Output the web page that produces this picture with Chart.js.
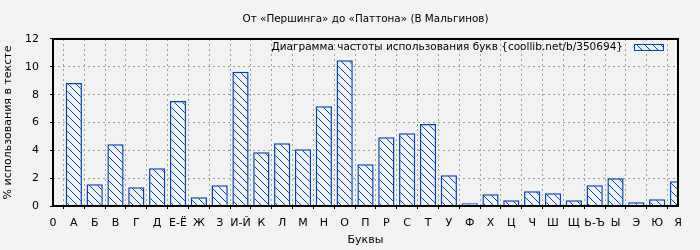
<!DOCTYPE html>
<html lang="ru">
<head>
<meta charset="utf-8">
<title>Частота букв</title>
<script src="https://cdn.jsdelivr.net/npm/chart.js@4"></script>
<style>
    html, body { margin: 0; padding: 0; background: #f2f2f2; }
    #wrap { width: 700px; height: 250px; }
</style>
</head>
<body>
<div id="wrap"><canvas id="chart" width="700" height="250"></canvas></div>
<script>
/*** ======== Data ======== ***/
const chartTitle = 'От «Першинга» до «Паттона» (В Мальгинов)';
const seriesName = 'Диаграмма частоты использования букв {coollib.net/b/350694}';
const letters = ['0', 'А', 'Б', 'В', 'Г', 'Д', 'Е-Ё', 'Ж', 'З', 'И-Й', 'К', 'Л', 'М', 'Н', 'О',
    'П', 'Р', 'С', 'Т', 'У', 'Ф', 'Х', 'Ц', 'Ч', 'Ш', 'Щ', 'Ь-Ъ', 'Ы', 'Э', 'Ю', 'Я'];
const percents = [null, 8.83, 1.56, 4.44, 1.34, 2.71, 7.55, 0.62, 1.49, 9.64, 3.86, 4.51, 4.08, 7.17, 10.48,
    3.0, 4.94, 5.23, 5.9, 2.21, 0.19, 0.84, 0.41, 1.06, 0.91, 0.41, 1.49, 1.99, 0.27, 0.48, 1.78];
const yTicks = [0, 2, 4, 6, 8, 10, 12];

const bg = '#f2f2f2';
const blue = '#0044bb';
const font = { family: 'DejaVu Sans', size: 11 };

document.addEventListener('DOMContentLoaded', function () {
    const canvas = document.getElementById('chart');
    const ctx = canvas.getContext('2d');

    // diagonal hatch "\" used for bars and legend box
    function makeHatch() {
        const c = document.createElement('canvas');
        c.width = 8; c.height = 8;
        const g = c.getContext('2d');
        g.fillStyle = bg;
        g.fillRect(0, 0, 8, 8);
        g.fillStyle = blue;
        for (let i = 0; i < 8; i++) g.fillRect(i, i, 1, 1);
        return ctx.createPattern(c, 'repeat');
    }
    const hatch = makeHatch();

    /*** ======== Plugins ======== ***/
    const background = {
        id: 'background',
        beforeDraw(chart) {
            const c = chart.ctx;
            c.save();
            c.fillStyle = bg;
            c.fillRect(0, 0, chart.width, chart.height);
            c.restore();
        }
    };

    const frameAndLegend = {
        id: 'frameAndLegend',
        afterDraw(chart) {
            const c = chart.ctx;
            const a = chart.chartArea;
            c.save();
            c.strokeStyle = '#000';
            c.lineWidth = 2;
            c.strokeRect(a.left, a.top, a.right - a.left, a.bottom - a.top);

            // legend inside plot, top right
            const ds = chart.data.datasets[0];
            const boxX = a.right - 44, boxY = a.top + 5, boxW = 30, boxH = 7;
            c.fillStyle = hatch;
            c.fillRect(boxX, boxY, boxW, boxH);
            c.strokeStyle = blue;
            c.lineWidth = 1;
            c.strokeRect(boxX + 0.5, boxY + 0.5, boxW - 1, boxH - 1);
            c.fillStyle = '#000';
            c.font = '10.5px "' + font.family + '"';
            c.textAlign = 'right';
            c.textBaseline = 'middle';
            c.fillText(ds.label, boxX - 11, boxY + 3.5);
            c.restore();
        }
    };

    /*** ======== Chart ======== ***/
    new Chart(ctx, {
        type: 'bar',
        data: {
            labels: letters,
            datasets: [{
                label: seriesName,
                data: percents,
                backgroundColor: hatch,
                borderColor: blue,
                borderWidth: 1.5,
                categoryPercentage: 1,
                barPercentage: 0.78,
                clip: 0
            }]
        },
        options: {
            responsive: false,
            animation: false,
            layout: { padding: { left: 0, right: 22, top: 0, bottom: 0 } },
            plugins: {
                legend: { display: false },
                tooltip: { enabled: false },
                title: {
                    display: true,
                    fullSize: false,
                    text: chartTitle,
                    color: '#000',
                    font: { family: font.family, size: 10.4, weight: 'normal' },
                    padding: { top: 13.5, bottom: 13 }
                }
            },
            scales: {
                x: {
                    type: 'category',
                    offset: false,
                    afterFit: s => { s.height = 44; },
                    grid: {
                        color: '#a0a0a0',
                        tickColor: '#000',
                        tickLength: 3,
                        tickBorderDash: []
                    },
                    border: { display: false, dash: [2, 3] },
                    ticks: {
                        color: '#000',
                        font: font,
                        padding: 8,
                        autoSkip: false,
                        maxRotation: 0,
                        minRotation: 0
                    },
                    title: {
                        display: true,
                        text: 'Буквы',
                        color: '#000',
                        font: font,
                        padding: { top: 0, bottom: 3.4 }
                    }
                },
                y: {
                    min: 0,
                    max: 12,
                    afterFit: s => { s.width = 53; },
                    afterBuildTicks: s => { s.ticks = yTicks.map(v => ({ value: v })); },
                    grid: {
                        color: '#a0a0a0',
                        tickColor: '#000',
                        tickLength: 3,
                        tickBorderDash: []
                    },
                    border: { display: false, dash: [2, 3] },
                    ticks: {
                        color: '#000',
                        font: font,
                        padding: 11
                    },
                    title: {
                        display: true,
                        text: '% использования в тексте',
                        color: '#000',
                        font: font,
                        padding: { top: 1.5, bottom: 0 }
                    }
                }
            }
        },
        plugins: [background, frameAndLegend]
    });
});
</script>
</body>
</html>
